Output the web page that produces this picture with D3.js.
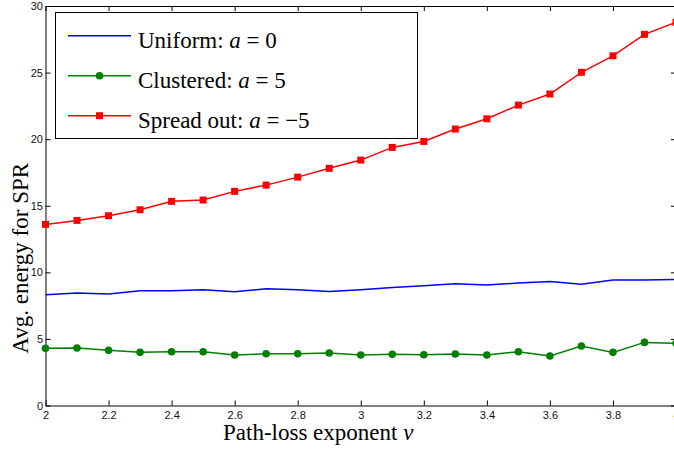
<!DOCTYPE html>
<html>
<head>
<meta charset="utf-8">
<script src="https://cdn.jsdelivr.net/npm/d3@7"></script>
<style>
  html, body { margin: 0; padding: 0; background: #fff; }
  svg { display: block; }
</style>
</head>
<body>
<svg id="chart" width="674" height="449"></svg>
<script>
// Path-loss exponent values (x)
const nu = [2.0, 2.1, 2.2, 2.3, 2.4, 2.5, 2.6, 2.7, 2.8, 2.9, 3.0,
            3.1, 3.2, 3.3, 3.4, 3.5, 3.6, 3.7, 3.8, 3.9, 4.0];

// Average energy for SPR, one array per node distribution
const uniform = [8.32, 8.45, 8.37, 8.62, 8.62, 8.69, 8.54, 8.77, 8.69, 8.57, 8.70,
                 8.87, 8.99, 9.14, 9.05, 9.20, 9.32, 9.10, 9.42, 9.42, 9.47];
const clustered = [4.29, 4.32, 4.14, 3.99, 4.04, 4.04, 3.79, 3.89, 3.89, 3.94, 3.79,
                   3.84, 3.81, 3.87, 3.79, 4.04, 3.72, 4.47, 3.99, 4.74, 4.67];
const spreadOut = [13.60, 13.90, 14.25, 14.70, 15.33, 15.43, 16.08, 16.55, 17.15, 17.81, 18.43,
                   19.38, 19.83, 20.76, 21.53, 22.56, 23.39, 25.02, 26.26, 27.87, 28.78];

const xTicks = [2, 2.2, 2.4, 2.6, 2.8, 3, 3.2, 3.4, 3.6, 3.8, 4];
const yTicks = [0, 5, 10, 15, 20, 25, 30];

const seriesNames = ["Uniform", "Clustered", "Spread out"];
const seriesA = ["0", "5", "\u22125"];

const svg = d3.select("#chart");

const plot = { left: 45.5, right: 676, top: 6, bottom: 405.5 };

const x = d3.scaleLinear().domain([2, 4]).range([plot.left, plot.right]);
const y = d3.scaleLinear().domain([0, 30]).range([plot.bottom, plot.top]);

const tickFont = "'Liberation Sans', Arial, sans-serif";
const serif = "'Liberation Serif', 'Times New Roman', serif";

// Axes: ticks point inward on all four sides
function styleAxis(g) {
  g.selectAll("path.domain").attr("stroke", "#000").attr("stroke-width", 1);
  g.selectAll(".tick line").attr("stroke", "#000").attr("stroke-width", 1);
  g.selectAll(".tick text").attr("fill", "#111")
    .attr("font-family", tickFont).attr("font-size", 11);
}

svg.append("g")
  .attr("transform", `translate(0,${plot.bottom})`)
  .call(d3.axisBottom(x).tickValues(xTicks).tickFormat(d3.format("~g"))
    .tickSizeInner(-5).tickSizeOuter(0).tickPadding(5.5))
  .call(styleAxis);

svg.append("g")
  .attr("transform", `translate(0,${plot.top})`)
  .call(d3.axisTop(x).tickValues(xTicks).tickFormat("")
    .tickSizeInner(-5).tickSizeOuter(0))
  .call(styleAxis);

svg.append("g")
  .attr("transform", `translate(${plot.left},0)`)
  .call(d3.axisLeft(y).tickValues(yTicks).tickFormat(d3.format("d"))
    .tickSizeInner(-5).tickSizeOuter(0).tickPadding(2.5))
  .call(styleAxis);

svg.append("g")
  .attr("transform", `translate(${plot.right},0)`)
  .call(d3.axisRight(y).tickValues(yTicks).tickFormat("")
    .tickSizeInner(-5).tickSizeOuter(0))
  .call(styleAxis);

// Series
const series = [
  { values: uniform, color: "#0000ff", marker: "none" },
  { values: clustered, color: "#008000", marker: "circle" },
  { values: spreadOut, color: "#ff0000", marker: "square" }
];

const line = d3.line().x(d => x(d[0])).y(d => y(d[1]));

function drawMarker(g, marker, color, cx, cy) {
  if (marker === "circle") {
    g.append("circle").attr("cx", cx).attr("cy", cy).attr("r", 3.8).attr("fill", color);
  } else if (marker === "square") {
    g.append("rect").attr("x", cx - 3.5).attr("y", cy - 3.5)
      .attr("width", 7).attr("height", 7).attr("fill", color);
  }
}

series.forEach(s => {
  const pts = nu.map((v, i) => [v, s.values[i]]);
  const g = svg.append("g");
  g.append("path").attr("d", line(pts)).attr("fill", "none")
    .attr("stroke", s.color).attr("stroke-width", 1.5);
  pts.forEach(p => drawMarker(g, s.marker, s.color, x(p[0]), y(p[1])));
});

// Legend
const legend = svg.append("g");
legend.append("rect")
  .attr("x", 55.5).attr("y", 12.5).attr("width", 362).attr("height", 126)
  .attr("fill", "#fff").attr("stroke", "#000").attr("stroke-width", 1);

series.forEach((s, i) => {
  const ly = 35.7 + i * 40;
  const item = legend.append("g");
  item.append("line").attr("x1", 68).attr("x2", 131).attr("y1", ly).attr("y2", ly)
    .attr("stroke", s.color).attr("stroke-width", 1.5);
  drawMarker(item, s.marker, s.color, 99.5, ly);
  const t = item.append("text").attr("x", 138).attr("y", ly + 12.6)
    .attr("font-family", serif).attr("font-size", 23).attr("fill", "#000");
  t.append("tspan").text(seriesNames[i] + ": ");
  t.append("tspan").attr("font-style", "italic").text("a");
  t.append("tspan").text(" = " + seriesA[i]);
});

// Axis titles
const xt = svg.append("text").attr("x", 223).attr("y", 440)
  .attr("font-family", serif).attr("font-size", 23).attr("fill", "#000");
xt.append("tspan").text("Path-loss exponent ");
xt.append("tspan").attr("font-style", "italic").text("\u03bd");

svg.append("text")
  .attr("transform", "translate(27.7,258.3) rotate(-90)")
  .attr("text-anchor", "middle")
  .attr("font-family", serif).attr("font-size", 23).attr("fill", "#000")
  .text("Avg. energy for SPR");
</script>
</body>
</html>
